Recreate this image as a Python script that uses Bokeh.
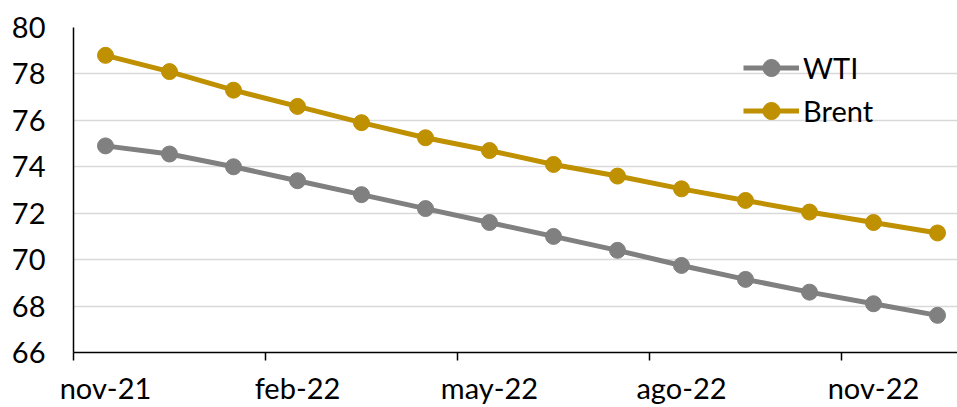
from bokeh.plotting import figure
from bokeh.models import (Range1d, FixedTicker, Legend, LegendItem,
                          ColumnDataSource)
from bokeh.embed import file_html
from bokeh.resources import INLINE

# Monthly futures curve, nov-21 .. dic-22 (US$ per barrel)
months = ["nov-21", "dic-21", "ene-22", "feb-22", "mar-22", "abr-22", "may-22",
          "jun-22", "jul-22", "ago-22", "sep-22", "oct-22", "nov-22", "dic-22"]
wti = [74.9, 74.55, 74.0, 73.4, 72.8, 72.2, 71.6, 71.0, 70.4, 69.75, 69.15,
       68.6, 68.1, 67.6]
brent = [78.8, 78.1, 77.3, 76.6, 75.9, 75.25, 74.7, 74.1, 73.6, 73.05, 72.55,
         72.05, 71.6, 71.15]
# every third month gets a label
label_months = ["nov-21", "feb-22", "may-22", "ago-22", "nov-22"]

FONT = "Lato"
FS = "29px"

x = [i + 0.5 for i in range(len(months))]
src = ColumnDataSource(dict(x=x, wti=wti, brent=brent, month=months))

p = figure(width=957, height=407, output_backend="svg", toolbar_location=None,
           x_range=Range1d(0, 13.8125), y_range=Range1d(66, 80),
           min_border_left=73, min_border_right=0,
           min_border_top=27, min_border_bottom=55)
p.outline_line_color = None
p.background_fill_color = "white"
p.border_fill_color = "white"

# horizontal gridlines only
p.xgrid.grid_line_color = None
p.ygrid.ticker = FixedTicker(ticks=[66, 68, 70, 72, 74, 76, 78, 80])
p.ygrid.grid_line_color = "#D9D9D9"
p.ygrid.grid_line_width = 1.5

# y axis
yax = p.yaxis[0]
yax.ticker = FixedTicker(ticks=[66, 68, 70, 72, 74, 76, 78, 80])
yax.axis_line_color = "black"
yax.axis_line_width = 1.5
yax.major_tick_line_color = None
yax.minor_tick_line_color = None
yax.major_label_standoff = 22
yax.major_label_text_font = FONT
yax.major_label_text_font_size = FS
yax.major_label_text_color = "black"

# x axis: labels centred under their month, tick marks on quarter boundaries
label_pos = [x[months.index(m)] for m in label_months]
boundaries = [months.index(m) for m in label_months]
xax = p.xaxis[0]
xax.ticker = FixedTicker(ticks=label_pos, minor_ticks=boundaries)
xax.axis_line_color = "black"
xax.axis_line_width = 1.5
xax.major_tick_line_color = None
xax.major_tick_in = 0
xax.major_tick_out = 0
xax.minor_tick_line_color = "black"
xax.minor_tick_line_width = 1.5
xax.minor_tick_in = 0
xax.minor_tick_out = 8
xax.major_label_overrides = {pos: m for pos, m in zip(label_pos, label_months)}
xax.major_label_standoff = 9
xax.major_label_text_font = FONT
xax.major_label_text_font_size = FS
xax.major_label_text_color = "black"

# series
GOLD = "#BF9000"
GREY = "#808080"
l_wti = p.line("x", "wti", source=src, line_color=GREY, line_width=5)
c_wti = p.scatter("x", "wti", source=src, size=16, fill_color=GREY,
                  line_color=GREY)
l_br = p.line("x", "brent", source=src, line_color=GOLD, line_width=5)
c_br = p.scatter("x", "brent", source=src, size=16, fill_color=GOLD,
                 line_color=GOLD)

legend = Legend(items=[LegendItem(label="WTI", renderers=[l_wti, c_wti]),
                       LegendItem(label="Brent", renderers=[l_br, c_br])],
                location=(670, 220))
legend.padding = 0
legend.margin = 0
legend.spacing = 0
legend.border_line_color = None
legend.background_fill_alpha = 0
legend.glyph_width = 56
legend.glyph_height = 43
legend.label_height = 43
legend.label_standoff = 4
legend.label_text_font = FONT
legend.label_text_font_size = FS
legend.label_text_color = "black"
p.add_layout(legend)

open("out.html", "w").write(file_html(p, INLINE))
